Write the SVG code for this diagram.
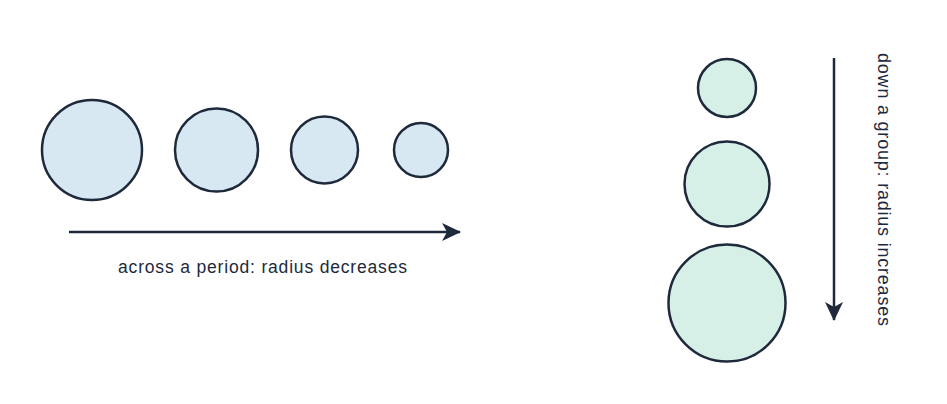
<svg xmlns="http://www.w3.org/2000/svg" width="947" height="404" viewBox="0 0 947 404">
<defs>
<style>
.row circle{fill:#d8e8f3;stroke:#1e293b;stroke-width:2.5}
.col circle{fill:#d6efe7;stroke:#1e293b;stroke-width:2.5}
.conn line{stroke:#1e293b;stroke-width:2.5;fill:none}
text{font-family:"Liberation Sans",Arial,sans-serif;fill:#1e293b}
</style>
<marker id="ah" markerUnits="userSpaceOnUse" viewBox="0 0 20 18" markerWidth="20" markerHeight="18" refX="18" refY="9" orient="auto">
<path d="M0,0 L19,9 L0,18 L5,9 z" fill="#1e293b"/>
</marker>
</defs>
<rect width="947" height="404" fill="#ffffff"/>
<g class="row">
<g id="p1"><circle cx="92" cy="150" r="50"/></g>
<g id="p2"><circle cx="216.5" cy="150" r="41.5"/></g>
<g id="p3"><circle cx="324.5" cy="150" r="33.5"/></g>
<g id="p4"><circle cx="421" cy="150" r="27"/></g>
</g>
<g class="col">
<g id="g1"><circle cx="727" cy="88" r="29"/></g>
<g id="g2"><circle cx="727" cy="184" r="42.5"/></g>
<g id="g3"><circle cx="727" cy="303" r="58.5"/></g>
</g>
<g class="conn">
<line x1="69" y1="232" x2="460" y2="232" marker-end="url(#ah)"/>
<line x1="834" y1="58" x2="834" y2="320" marker-end="url(#ah)"/>
</g>
<g id="label-period">
<text x="118" y="273" font-size="17.5" textLength="289" lengthAdjust="spacing">across a period: radius decreases</text>
</g>
<g id="label-group">
<text transform="translate(878,53) rotate(90)" x="0" y="0" font-size="18" textLength="273" lengthAdjust="spacing" fill="#333a45">down a group: radius increases</text>
</g>
</svg>
